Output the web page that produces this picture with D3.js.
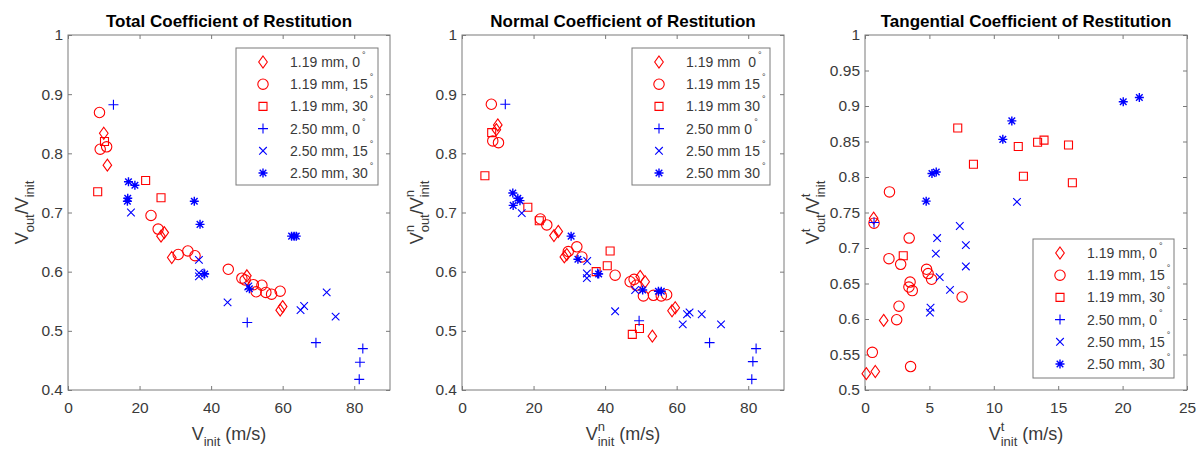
<!DOCTYPE html>
<html><head><meta charset="utf-8">
<script src="https://cdn.jsdelivr.net/npm/d3@7"></script>
<style>
body{margin:0;background:#fff;}
text{font-family:"Liberation Sans",Arial,sans-serif;}
</style></head>
<body><svg id="c" width="1197" height="450"></svg>
<script>
// ---------- DATA ----------
const seriesNamesComma = ["1.19 mm, 0", "1.19 mm, 15", "1.19 mm, 30", "2.50 mm, 0", "2.50 mm, 15", "2.50 mm, 30"];
const seriesNamesNormal = ["1.19 mm  0", "1.19 mm 15", "1.19 mm 30", "2.50 mm 0", "2.50 mm 15", "2.50 mm 30"];
const seriesMarkers = ["diamond", "circle", "square", "plus", "cross", "star"];
const seriesColors = ["#ff0000", "#ff0000", "#ff0000", "#0000ff", "#0000ff", "#0000ff"];

const titles = ["Total Coefficient of Restitution", "Normal Coefficient of Restitution", "Tangential Coefficient of Restitution"];
const xTicksVel = [0, 20, 40, 60, 80];
const yTicksVel = [0.4, 0.5, 0.6, 0.7, 0.8, 0.9, 1];
const xTicksTan = [0, 5, 10, 15, 20, 25];
const yTicksTan = [0.5, 0.55, 0.6, 0.65, 0.7, 0.75, 0.8, 0.85, 0.9, 0.95, 1];

// Total COR
const total_119_0 = [[10.0,0.834],[11.0,0.780],[26.9,0.666],[26.0,0.660],[29.0,0.624],[50.0,0.593],[59.3,0.535],[60.0,0.541]];
const total_119_15 = [[8.8,0.869],[9.0,0.807],[10.8,0.811],[23.2,0.695],[25.2,0.672],[30.8,0.629],[33.5,0.635],[35.5,0.627],[44.8,0.604],[48.6,0.589],[49.5,0.586],[51.8,0.578],[52.6,0.566],[54.2,0.577],[55.3,0.565],[56.9,0.562],[59.3,0.567]];
const total_119_30 = [[8.3,0.735],[10.2,0.820],[21.7,0.754],[26.0,0.725]];
const total_250_0 = [[12.7,0.882],[38.0,0.597],[50.1,0.514],[69.3,0.480],[82.4,0.470],[81.6,0.447],[81.4,0.418]];
const total_250_15 = [[17.6,0.700],[36.6,0.620],[36.6,0.598],[36.6,0.592],[44.6,0.548],[50.4,0.575],[65.0,0.535],[66.0,0.542],[72.3,0.565],[74.8,0.524]];
const total_250_30 = [[16.9,0.752],[18.7,0.746],[16.7,0.724],[16.6,0.719],[35.3,0.719],[36.9,0.680],[38.2,0.596],[50.7,0.571],[62.5,0.660],[63.2,0.660],[63.8,0.660]];

// Normal COR
const normal_119_0 = [[10.0,0.848],[9.6,0.840],[26.9,0.668],[25.7,0.661],[28.6,0.625],[29.3,0.629],[49.8,0.592],[51.2,0.583],[53.2,0.491],[58.7,0.534],[59.6,0.539]];
const normal_119_15 = [[8.2,0.883],[8.6,0.821],[10.2,0.818],[21.9,0.689],[23.7,0.679],[29.7,0.634],[32.1,0.642],[33.5,0.625],[42.8,0.594],[47.0,0.583],[48.1,0.587],[48.7,0.577],[50.7,0.559],[53.5,0.560],[55.7,0.559],[57.2,0.561]];
const normal_119_30 = [[8.3,0.835],[6.4,0.762],[18.4,0.709],[21.6,0.686],[37.5,0.600],[40.6,0.610],[41.4,0.635],[47.6,0.494],[49.6,0.504]];
const normal_250_0 = [[12.1,0.883],[37.9,0.597],[49.5,0.517],[69.2,0.480],[82.2,0.470],[81.3,0.448],[81.0,0.418]];
const normal_250_15 = [[16.7,0.699],[35.0,0.618],[34.9,0.597],[34.9,0.589],[42.8,0.533],[48.4,0.569],[61.7,0.511],[62.9,0.528],[63.6,0.531],[67.0,0.528],[72.4,0.511]];
const normal_250_30 = [[14.2,0.733],[15.6,0.724],[16.2,0.720],[14.3,0.712],[30.5,0.660],[32.4,0.621],[38.2,0.596],[50.5,0.569],[54.9,0.567],[55.7,0.567]];

// Tangential COR
const tang_119_0 = [[0.67,0.742],[1.45,0.598],[0.1,0.523],[0.8,0.526]];
const tang_119_15 = [[1.9,0.779],[0.7,0.735],[3.43,0.714],[1.86,0.685],[2.77,0.677],[4.78,0.670],[4.9,0.664],[5.17,0.656],[3.5,0.652],[3.41,0.645],[3.67,0.640],[7.54,0.631],[2.64,0.618],[2.46,0.599],[0.57,0.553],[3.54,0.533]];
const tang_119_30 = [[7.2,0.869],[8.42,0.818],[11.9,0.843],[12.3,0.801],[13.4,0.849],[13.9,0.852],[15.8,0.845],[16.1,0.792],[2.97,0.689]];
const tang_250_0 = [[0.7,0.736]];
const tang_250_15 = [[11.8,0.765],[7.36,0.731],[5.6,0.714],[7.83,0.704],[5.5,0.692],[7.83,0.674],[5.8,0.659],[6.6,0.641],[5.09,0.616],[5.04,0.609]];
const tang_250_30 = [[20.05,0.906],[21.3,0.912],[11.4,0.879],[10.7,0.853],[5.2,0.805],[5.53,0.807],[4.75,0.766]];

// ---------- LAYOUT ----------
const svg = d3.select("#c");
const plotTop = 35, plotBottom = 390;
const panels = [
  {x0:68, x1:390, xdom:[0,90], ydom:[0.4,1], xt:xTicksVel, yt:yTicksVel, ytf:d=>d===1?"1":d.toFixed(1),
   series:[total_119_0,total_119_15,total_119_30,total_250_0,total_250_15,total_250_30],
   names:seriesNamesComma, legend:{x:236,y:48,w:142,h:137}, sup:null, ylabX:28},
  {x0:462, x1:784, xdom:[0,90], ydom:[0.4,1], xt:xTicksVel, yt:yTicksVel, ytf:d=>d===1?"1":d.toFixed(1),
   series:[normal_119_0,normal_119_15,normal_119_30,normal_250_0,normal_250_15,normal_250_30],
   names:seriesNamesNormal, legend:{x:632,y:48,w:138,h:137}, sup:"n", ylabX:423},
  {x0:865, x1:1187, xdom:[0,25], ydom:[0.5,1], xt:xTicksTan, yt:yTicksTan, ytf:d=>d===1?"1":(Math.round(d*100)%10===0?d.toFixed(1):d.toFixed(2)),
   series:[tang_119_0,tang_119_15,tang_119_30,tang_250_0,tang_250_15,tang_250_30],
   names:seriesNamesComma, legend:{x:1033,y:239,w:141,h:139}, sup:"t", ylabX:819}
];

function marker(g, type, color){
  const s = g.append("path").attr("fill","none").attr("stroke",color).attr("stroke-width",1.1);
  let d;
  switch(type){
    case "diamond": d="M0,-6L4.3,0L0,6L-4.3,0Z"; break;
    case "circle": d="M5.2,0A5.2,5.2 0 1,1 -5.2,0A5.2,5.2 0 1,1 5.2,0Z"; break;
    case "square": d="M-4,-4H4V4H-4Z"; break;
    case "plus": d="M-5,0H5M0,-5V5"; break;
    case "cross": d="M-3.8,-3.8L3.8,3.8M-3.8,3.8L3.8,-3.8"; break;
    case "star": d="M-4.5,0H4.5M0,-4.5V4.5M-3.3,-3.3L3.3,3.3M-3.3,3.3L3.3,-3.3"; break;
  }
  s.attr("d",d);
  if(type==="star") s.attr("stroke-width",1.4);
}

const axisColor = "#7a7a7a";
const textColor = "#3a3a3a";
const labFs = 18, subFs = 13;

function supSub(sel, sup, sub){
  if(sup){
    const st = sel.append("tspan").attr("dy",-9).style("font-size",subFs+"px").text(sup);
    const w = st.node().getComputedTextLength();
    sel.append("tspan").attr("dx",-w).attr("dy",15).style("font-size",subFs+"px").text(sub);
  } else {
    sel.append("tspan").attr("dy",6).style("font-size",subFs+"px").text(sub);
  }
}

panels.forEach((p,pi)=>{
  const x = d3.scaleLinear().domain(p.xdom).range([p.x0,p.x1]);
  const y = d3.scaleLinear().domain(p.ydom).range([plotBottom,plotTop]);
  const g = svg.append("g");

  g.append("rect").attr("x",p.x0).attr("y",plotTop).attr("width",p.x1-p.x0).attr("height",plotBottom-plotTop)
    .attr("fill","#fff").attr("stroke",axisColor).attr("stroke-width",1);

  const styleAx = sel=>{ sel.select(".domain").remove(); sel.selectAll(".tick line").attr("stroke",axisColor);
    sel.selectAll(".tick text").attr("fill",textColor).style("font-size","15.5px").style("font-family","'Liberation Sans',Arial,sans-serif"); };
  g.append("g").attr("transform",`translate(0,${plotBottom})`)
    .call(d3.axisBottom(x).tickValues(p.xt).tickSizeInner(-4).tickSizeOuter(0).tickPadding(12).tickFormat(d3.format("d")))
    .call(styleAx);
  g.append("g").attr("transform",`translate(0,${plotTop})`)
    .call(d3.axisTop(x).tickValues(p.xt).tickSizeInner(-4).tickSizeOuter(0).tickFormat(""))
    .call(styleAx);
  g.append("g").attr("transform",`translate(${p.x0},0)`)
    .call(d3.axisLeft(y).tickValues(p.yt).tickSizeInner(-4).tickSizeOuter(0).tickPadding(5).tickFormat(p.ytf))
    .call(styleAx);
  g.append("g").attr("transform",`translate(${p.x1},0)`)
    .call(d3.axisRight(y).tickValues(p.yt).tickSizeInner(-4).tickSizeOuter(0).tickFormat(""))
    .call(styleAx);

  g.append("text").attr("x",(p.x0+p.x1)/2).attr("y",27).attr("text-anchor","middle")
    .style("font-size","17px").style("font-weight","bold").attr("fill","#000").text(titles[pi]);

  const xl = g.append("text").attr("x",(p.x0+p.x1)/2).attr("y",440).attr("text-anchor","middle")
    .attr("fill",textColor).style("font-size",labFs+"px");
  xl.append("tspan").text("V");
  supSub(xl, p.sup, "init");
  xl.append("tspan").attr("dy",-6).text(" (m/s)");

  const yl = g.append("text").attr("transform",`translate(${p.ylabX},${(plotTop+plotBottom)/2}) rotate(-90)`)
    .attr("text-anchor","middle").attr("fill",textColor).style("font-size",labFs+"px");
  yl.append("tspan").text("V");
  supSub(yl, p.sup, "out");
  yl.append("tspan").attr("dy",-6).text("/V");
  supSub(yl, p.sup, "init");

  p.series.forEach((ser,si)=>{
    ser.forEach(pt=>{
      const mg = g.append("g").attr("transform",`translate(${x(pt[0])},${y(pt[1])})`);
      marker(mg, seriesMarkers[si], seriesColors[si]);
    });
  });

  const L = p.legend;
  const lg = g.append("g");
  lg.append("rect").attr("x",L.x).attr("y",L.y).attr("width",L.w).attr("height",L.h)
    .attr("fill","#fff").attr("stroke",axisColor).attr("stroke-width",1);
  p.names.forEach((nm,i)=>{
    const ry = L.y + 14 + i*22.2;
    const mg = lg.append("g").attr("transform",`translate(${L.x+27},${ry})`);
    marker(mg, seriesMarkers[i], seriesColors[i]);
    const t = lg.append("text").attr("x",L.x+54).attr("y",ry+5).attr("fill",textColor)
      .style("font-size","14px").style("white-space","pre").attr("xml:space","preserve");
    t.append("tspan").text(nm);
    t.append("tspan").attr("dx",2).attr("dy",-9).style("font-size","9px").text("°");
  });
});
</script></body></html>
